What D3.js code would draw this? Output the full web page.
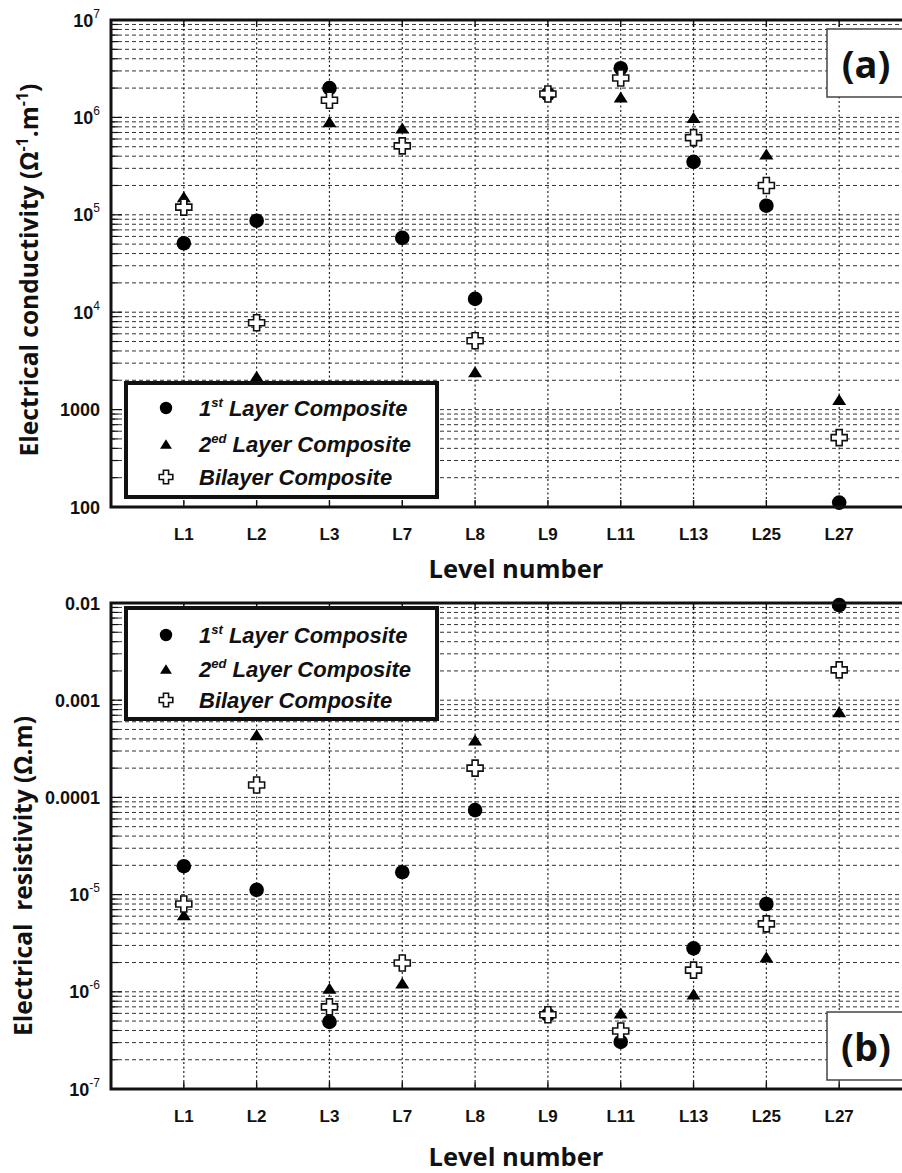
<!DOCTYPE html>
<html lang="en">
<head>
<meta charset="utf-8">
<script src="https://d3js.org/d3.v7.min.js"></script>
<style type="text/css">
body {
  margin: 0;
  background-color: #ffffff;
}
svg { display: block; }
.tick-label { font: bold 18px "Liberation Sans", Arial, sans-serif; fill: #111; }
.axis-title { font-family: "Open Sans", sans-serif; font-weight: 700; fill: #111; }
.legend-text { font: italic bold 22px "Liberation Sans", Arial, sans-serif; fill: #111; }
</style>
</head>
<body>
<script type="text/javascript">

// Categories (level numbers)
var levels = ["L1", "L2", "L3", "L7", "L8", "L9", "L11", "L13", "L25", "L27"];

// (a) Electrical conductivity (Ω-1.m-1)
var cond1st = [5.1e4, 8.7e4, 2.0e6, 5.8e4, 1.37e4, 1.74e6, 3.2e6, 3.5e5, 1.24e5, 111];
var cond2ed = [1.53e5, 2.2e3, 9.0e5, 7.8e5, 2.45e3, null, 1.62e6, 1.0e6, 4.2e5, 1.27e3];
var condBi  = [1.2e5, 7.8e3, 1.5e6, 5.1e5, 5.1e3, 1.74e6, 2.54e6, 6.2e5, 2.0e5, 516];

// (b) Electrical resistivity (Ω.m)
var res1st = [1.96e-5, 1.12e-5, 4.9e-7, 1.7e-5, 7.4e-5, 5.8e-7, 3.05e-7, 2.8e-6, 8e-6, 0.0095];
var res2ed = [6.2e-6, 4.4e-4, 1.09e-6, 1.23e-6, 3.9e-4, null, 6.05e-7, 9.5e-7, 2.28e-6, 7.6e-4];
var resBi  = [8e-6, 1.34e-4, 7e-7, 1.98e-6, 2.0e-4, 5.8e-7, 3.95e-7, 1.67e-6, 5e-6, 2.05e-3];

// tick labels: [base, exponent]
var condTicks = [1e7, 1e6, 1e5, 1e4, 1000, 100];
var condTickLabels = [["10", "7"], ["10", "6"], ["10", "5"], ["10", "4"], ["1000", ""], ["100", ""]];
var resTicks = [0.01, 0.001, 0.0001, 1e-5, 1e-6, 1e-7];
var resTickLabels = [["0.01", ""], ["0.001", ""], ["0.0001", ""], ["10", "-5"], ["10", "-6"], ["10", "-7"]];

// legend entries: [prefix, superscript, rest]
var seriesNames = [["1", "st", " Layer Composite"], ["2", "ed", " Layer Composite"], ["", "", "Bilayer Composite"]];

var width = 902;
var height = 1173;

var svg = d3.select("body")
  .append("svg")
  .attr("width", width)
  .attr("height", height);

var x = d3.scalePoint()
  .domain(levels)
  .range([111, 912])
  .padding(1);

// marker shapes
var plusPath = function(a, w) {
  // plus outline, arm half-length a, half-width w
  return "M" + (-w) + "," + (-a) + "H" + w + "V" + (-w) + "H" + a + "V" + w + "H" + w + "V" + a +
    "H" + (-w) + "V" + w + "H" + (-a) + "V" + (-w) + "H" + (-w) + "Z";
};

function drawMarker(g, kind, cx, cy, s) {
  if (kind == 0) {
    g.append("circle").attr("cx", cx).attr("cy", cy).attr("r", 7.3 * s).attr("fill", "#000");
  } else if (kind == 1) {
    var h = 11 * s, hw = 7 * s;
    g.append("path")
      .attr("d", "M" + cx + "," + (cy - h / 2) + "L" + (cx + hw) + "," + (cy + h / 2) + "L" + (cx - hw) + "," + (cy + h / 2) + "Z")
      .attr("fill", "#000");
  } else {
    g.append("path")
      .attr("transform", "translate(" + cx + "," + cy + ")")
      .attr("d", plusPath(8 * s, 3 * s))
      .attr("fill", "#fff")
      .attr("stroke", "#111")
      .attr("stroke-width", 1.6);
  }
}

function drawPanel(cfg) {
  var y = d3.scaleLog().domain(cfg.domain).range([cfg.bottom, cfg.top]);
  var g = svg.append("g");
  var left = 111, right = 912;

  // horizontal grid (major + minor)
  var gridVals = y.ticks().filter(function(v) {
    var p = y(v);
    return p > cfg.top + 1 && p < cfg.bottom - 1;
  });
  g.selectAll(".hgrid")
    .data(gridVals)
    .enter()
    .append("line")
    .attr("x1", left).attr("x2", right)
    .attr("y1", function(d) { return y(d); })
    .attr("y2", function(d) { return y(d); })
    .attr("stroke", "#333")
    .attr("stroke-width", 1)
    .attr("stroke-dasharray", "4,3");

  // vertical grid
  g.selectAll(".vgrid")
    .data(levels)
    .enter()
    .append("line")
    .attr("x1", function(d) { return x(d); })
    .attr("x2", function(d) { return x(d); })
    .attr("y1", cfg.top).attr("y2", cfg.bottom)
    .attr("stroke", "#222")
    .attr("stroke-width", 1.2)
    .attr("stroke-dasharray", "2,2.5");

  // y ticks inward on left
  var allTicks = y.ticks();
  g.selectAll(".ytick")
    .data(allTicks)
    .enter()
    .append("line")
    .attr("x1", left)
    .attr("x2", function(d) {
      var m = Math.abs(Math.log10(d) - Math.round(Math.log10(d))) < 1e-6;
      return left + (m ? 11 : 7);
    })
    .attr("y1", function(d) { return y(d); })
    .attr("y2", function(d) { return y(d); })
    .attr("stroke", "#111")
    .attr("stroke-width", 1.2);

  // x ticks inward top/bottom
  levels.forEach(function(l) {
    g.append("line").attr("x1", x(l)).attr("x2", x(l)).attr("y1", cfg.bottom).attr("y2", cfg.bottom - 7)
      .attr("stroke", "#111").attr("stroke-width", 1.4);
    g.append("line").attr("x1", x(l)).attr("x2", x(l)).attr("y1", cfg.top).attr("y2", cfg.top + 7)
      .attr("stroke", "#111").attr("stroke-width", 1.4);
  });

  // data points
  var series = cfg.series;
  var pts = g.append("g");
  series.forEach(function(vals, k) {
    vals.forEach(function(v, i) {
      if (v == null) return;
      drawMarker(pts, k, x(levels[i]), y(v), 1);
    });
  });

  // frame
  g.append("rect")
    .attr("x", left).attr("y", cfg.top)
    .attr("width", right - left).attr("height", cfg.bottom - cfg.top)
    .attr("fill", "none")
    .attr("stroke", "#111")
    .attr("stroke-width", 3);

  // y tick labels
  cfg.ticks.forEach(function(v, i) {
    var lab = cfg.tickLabels[i];
    var t = g.append("text")
      .attr("class", "tick-label")
      .attr("x", 100)
      .attr("y", y(v) + 6.5)
      .attr("text-anchor", "end");
    t.append("tspan").text(lab[0]);
    if (lab[1] != "") {
      t.append("tspan").attr("dy", -9).style("font-size", "12px").style("font-weight", "normal").text(lab[1]);
    }
  });

  // x tick labels
  g.selectAll(".xlab")
    .data(levels)
    .enter()
    .append("text")
    .attr("class", "tick-label")
    .attr("x", function(d) { return x(d); })
    .attr("y", cfg.bottom + 33)
    .attr("text-anchor", "middle")
    .style("font-size", "17px")
    .text(function(d) { return d; });

  // x title
  g.append("text")
    .attr("class", "axis-title")
    .attr("x", 516)
    .attr("y", cfg.xTitleY)
    .attr("text-anchor", "middle")
    .style("font-size", "25.5px")
    .text("Level number");

  // y title
  var yt = g.append("text")
    .attr("class", "axis-title")
    .attr("transform", "translate(" + cfg.yTitleX + "," + cfg.yTitleCenter + ") rotate(-90)")
    .attr("text-anchor", "middle")
    .style("font-size", "24.5px")
    .style("white-space", "pre")
    .attr("xml:space", "preserve");
  cfg.yTitle.forEach(function(p) {
    var ts = yt.append("tspan").text(p[0]);
    if (p[1] == "sup") ts.attr("dy", -10).style("font-size", "16px");
    if (p[1] == "down") ts.attr("dy", 10);
  });

  // legend
  var lg = g.append("g");
  lg.append("rect")
    .attr("x", 126).attr("y", cfg.legendTop)
    .attr("width", 311).attr("height", cfg.legendH)
    .attr("fill", "#fff")
    .attr("stroke", "#111")
    .attr("stroke-width", 4);
  seriesNames.forEach(function(n, k) {
    var ry = cfg.legendRows[k];
    drawMarker(lg, k, 166, ry, 0.85);
    var t = lg.append("text")
      .attr("class", "legend-text")
      .attr("x", 199)
      .attr("y", ry + 8);
    if (n[0] != "") {
      t.append("tspan").text(n[0]);
      t.append("tspan").attr("dy", -9).style("font-size", "13px").text(n[1]);
      t.append("tspan").attr("dy", 9).text(n[2]);
    } else {
      t.append("tspan").text(n[2]);
    }
  });

  // panel label box
  g.append("rect")
    .attr("x", 827).attr("y", cfg.labelTop)
    .attr("width", 100).attr("height", 68)
    .attr("fill", "#fff")
    .attr("stroke", "#444")
    .attr("stroke-width", 1.5);
  g.append("text")
    .attr("class", "axis-title")
    .attr("x", 866)
    .attr("y", cfg.labelTop + 49)
    .attr("text-anchor", "middle")
    .style("font-size", "38px")
    .text(cfg.label);
}

drawPanel({
  domain: [100, 1e7], top: 20, bottom: 507,
  series: [cond1st, cond2ed, condBi],
  ticks: condTicks, tickLabels: condTickLabels,
  xTitleY: 578,
  yTitleX: 38, yTitleCenter: 270,
  yTitle: [["Electrical conductivity (Ω", ""], ["-1", "sup"], [".m", "down"], ["-1", "sup"], [")", "down"]],
  legendTop: 383, legendH: 114, legendRows: [408, 444, 477],
  labelTop: 29, label: "(a)"
});

drawPanel({
  domain: [1e-7, 0.01], top: 603, bottom: 1089,
  series: [res1st, res2ed, resBi],
  ticks: resTicks, tickLabels: resTickLabels,
  xTitleY: 1166,
  yTitleX: 32, yTitleCenter: 876,
  yTitle: [["Electrical  resistivity (Ω.m)", ""]],
  legendTop: 608, legendH: 111, legendRows: [635, 669, 700],
  labelTop: 1012, label: "(b)"
});

</script>
</body>
</html>
